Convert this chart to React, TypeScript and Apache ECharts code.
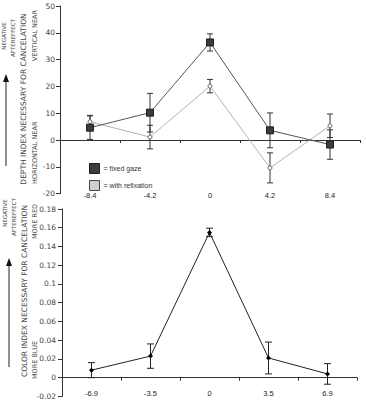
import React, { useEffect, useRef } from "react";
import * as echarts from "echarts";

const topCats = ["-8.4", "-4.2", "0", "4.2", "8.4"];
const fixedGaze = [4.6, 10.2, 36.4, 3.6, -1.7];
const fixedGazeErr = [4.4, 7.2, 3.2, 6.5, 5.5];
const refixation = [6.8, 1.1, 20.1, -10.4, 5.3];
const refixationErr = [2.4, 4.4, 2.5, 5.6, 4.4];

const bottomCats = ["-6.9", "-3.5", "0", "3.5", "6.9"];
const colorIndex = [0.008, 0.023, 0.155, 0.021, 0.004];
const colorIndexErr = [0.008, 0.013, 0.0045, 0.017, 0.011];

const topTicks = { min: -20, max: 50, interval: 10 };
const bottomTicks = { min: -0.02, max: 0.18, interval: 0.02 };

const errData = (vals: number[], errs: number[]) =>
  vals.map((v, i) => [i, v - errs[i], v + errs[i]]);

const errRender = (capW: number, color: string) => (params: any, api: any) => {
  const x = api.value(0);
  const lo = api.value(1);
  const hi = api.value(2);
  const pHi = api.coord([x, hi]);
  const pLo = api.coord([x, lo]);
  const style = { stroke: color, lineWidth: 1 };
  return {
    type: "group",
    children: [
      { type: "line", shape: { x1: pHi[0], y1: pHi[1], x2: pLo[0], y2: pLo[1] }, style },
      { type: "line", shape: { x1: pHi[0] - capW / 2, y1: pHi[1], x2: pHi[0] + capW / 2, y2: pHi[1] }, style },
      { type: "line", shape: { x1: pLo[0] - capW / 2, y1: pLo[1], x2: pLo[0] + capW / 2, y2: pLo[1] }, style },
    ],
  };
};

const axisColor = "#333";
const labelFont = "DejaVu Sans";
const xFont = "Liberation Sans";

const vText = (text: string, x: number, y: number, size: number, align: string) => ({
  type: "text",
  x,
  y,
  rotation: Math.PI / 2,
  style: {
    text,
    fill: "#444",
    font: `${size}px "${labelFont}"`,
    align,
    verticalAlign: "middle",
  },
});

const arrow = (x: number, y1: number, y2: number) => [
  { type: "line", shape: { x1: x, y1, x2: x, y2: y2 + 6 }, style: { stroke: "#222", lineWidth: 1 } },
  {
    type: "polygon",
    shape: { points: [[x, y2], [x - 3, y2 + 8], [x + 3, y2 + 8]] },
    style: { fill: "#111" },
  },
];

export default function App() {
  const ref = useRef<HTMLDivElement>(null);
  useEffect(() => {
    if (!ref.current) return;
    const chart = echarts.init(ref.current, null, { renderer: "svg" });
    const yAxisCommon = {
      type: "value",
      axisLine: { show: true, lineStyle: { color: axisColor } },
      axisTick: { show: true, length: 4, lineStyle: { color: axisColor } },
      splitLine: { show: false },
    };
    chart.setOption({
      animation: false,
      backgroundColor: "#fff",
      grid: [
        { left: 60, top: 6, width: 300, height: 187.6 },
        { left: 62, top: 209, width: 295, height: 187.4 },
      ],
      xAxis: [
        {
          gridIndex: 0,
          type: "category",
          data: topCats,
          position: "bottom",
          axisLine: { onZero: true, lineStyle: { color: axisColor } },
          axisTick: { show: true, length: 3, lineStyle: { color: axisColor } },
          axisLabel: { show: false },
        },
        {
          gridIndex: 0,
          type: "category",
          data: topCats,
          position: "bottom",
          axisLine: { show: false, onZero: false },
          axisTick: { show: false },
          axisLabel: { fontSize: 7.5, color: "#222", fontFamily: xFont, margin: -2 },
        },
        {
          gridIndex: 1,
          type: "category",
          data: bottomCats,
          position: "bottom",
          axisLine: { onZero: true, lineStyle: { color: axisColor } },
          axisTick: { show: true, length: 3, lineStyle: { color: axisColor } },
          axisLabel: { show: false },
        },
        {
          gridIndex: 1,
          type: "category",
          data: bottomCats,
          position: "bottom",
          axisLine: { show: false, onZero: false },
          axisTick: { show: false },
          axisLabel: { fontSize: 7.5, color: "#222", fontFamily: xFont, margin: -7 },
        },
      ],
      yAxis: [
        {
          ...yAxisCommon,
          gridIndex: 0,
          ...topTicks,
          axisLabel: { fontSize: 7.5, color: "#444", fontFamily: labelFont, margin: 5 },
        },
        {
          ...yAxisCommon,
          gridIndex: 1,
          ...bottomTicks,
          axisLabel: {
            fontSize: 7.5,
            color: "#444",
            fontFamily: labelFont,
            margin: 6,
            formatter: (v: number) => String(parseFloat(v.toFixed(2))),
          },
        },
      ],
      legend: {
        orient: "vertical",
        left: 84,
        top: 158,
        itemWidth: 10,
        itemHeight: 10,
        itemGap: 6,
        selectedMode: false,
        formatter: "= {name}",
        textStyle: { fontSize: 7, color: "#333", fontFamily: xFont, padding: [0, 0, 0, -1] },
        data: [
          { name: "fixed gaze", icon: "rect", itemStyle: { color: "#3c3c3c", borderColor: "#1e1e1e", borderWidth: 1 } },
          { name: "with refixation", icon: "rect", itemStyle: { color: "#cfcfcf", borderColor: "#444", borderWidth: 1 } },
        ],
      },
      series: [
        {
          type: "custom",
          name: "fixed gaze err",
          xAxisIndex: 0,
          yAxisIndex: 0,
          renderItem: errRender(6, "#333"),
          encode: { x: 0, y: [1, 2] },
          data: errData(fixedGaze, fixedGazeErr),
          z: 1,
        },
        {
          type: "custom",
          name: "with refixation err",
          xAxisIndex: 0,
          yAxisIndex: 0,
          renderItem: errRender(6, "#333"),
          encode: { x: 0, y: [1, 2] },
          data: errData(refixation, refixationErr),
          z: 1,
        },
        {
          type: "line",
          name: "with refixation",
          xAxisIndex: 0,
          yAxisIndex: 0,
          data: refixation,
          symbol: "circle",
          symbolSize: 4,
          itemStyle: { color: "#fff", borderColor: "#666", borderWidth: 1 },
          lineStyle: { color: "#b3b3b3", width: 1 },
          z: 2,
        },
        {
          type: "line",
          name: "fixed gaze",
          xAxisIndex: 0,
          yAxisIndex: 0,
          data: fixedGaze,
          symbol: "rect",
          symbolSize: 7,
          itemStyle: { color: "#3c3c3c", borderColor: "#1e1e1e", borderWidth: 1 },
          lineStyle: { color: "#555", width: 1 },
          z: 3,
        },
        {
          type: "custom",
          name: "color err",
          xAxisIndex: 2,
          yAxisIndex: 1,
          renderItem: errRender(7, "#222"),
          encode: { x: 0, y: [1, 2] },
          data: errData(colorIndex, colorIndexErr),
          z: 1,
        },
        {
          type: "line",
          name: "color index",
          xAxisIndex: 2,
          yAxisIndex: 1,
          data: colorIndex,
          symbol: "diamond",
          symbolSize: 5,
          itemStyle: { color: "#000" },
          lineStyle: { color: "#222", width: 1 },
          z: 2,
        },
      ],
      graphic: [
        vText("NEGATIVE", 4, 36, 5.5, "center"),
        vText("AFTEREFFECT", 13, 38, 5.5, "center"),
        vText("DEPTH INDEX NECESSARY FOR CANCELATION", 23.5, 99, 7.5, "center"),
        vText("VERTICAL NEAR", 35, 10, 6.5, "right"),
        vText("HORIZONTAL NEAR", 35, 184, 6.5, "left"),
        ...arrow(6, 166, 74),
        vText("NEGATIVE", 5, 213, 5.5, "center"),
        vText("AFTEREFFECT", 14, 217, 5.5, "center"),
        vText("COLOR INDEX NECESSARY FOR CANCELATION", 24, 291, 7.5, "center"),
        vText("MORE RED", 35, 204, 6.5, "right"),
        vText("MORE BLUE", 35, 379, 6.5, "left"),
        ...arrow(9, 367, 258),
      ],
    });
    return () => chart.dispose();
  }, []);
  return <div ref={ref} style={{ position: "fixed", left: 0, top: 0, width: 366, height: 404 }} />;
}
